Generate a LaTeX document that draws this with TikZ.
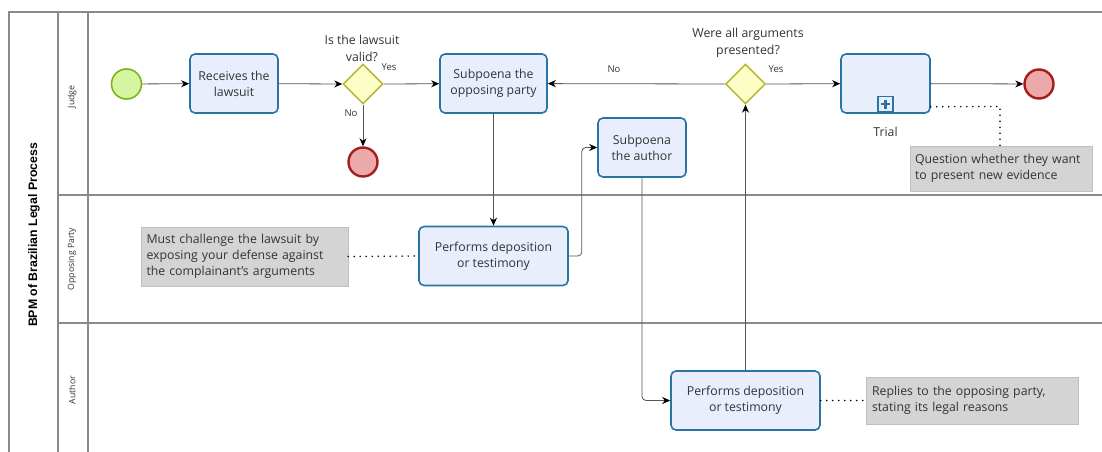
\documentclass[tikz,border=0pt]{standalone}
\usepackage{fontspec}
\setmainfont{Open Sans}
\newfontfamily\titlefont{Liberation Sans}
\usetikzlibrary{arrows.meta,shapes.geometric,positioning,calc}
\definecolor{taskfill}{HTML}{E9EEFC}
\definecolor{taskdraw}{HTML}{2A73A5}
\definecolor{gwfill}{HTML}{FDFDC6}
\definecolor{gwdraw}{HTML}{B3B32E}
\definecolor{stfill}{HTML}{D6F5A0}
\definecolor{stdraw}{HTML}{7AB51D}
\definecolor{endfill}{HTML}{ECA9A9}
\definecolor{enddraw}{HTML}{A61B1B}
\definecolor{lanecol}{HTML}{8A8A8A}
\definecolor{txt}{HTML}{333333}
\definecolor{annfill}{HTML}{D4D4D4}
\definecolor{flowcol}{HTML}{555555}
\begin{document}
\begin{tikzpicture}[x=1pt,y=-1pt,
  task/.style={draw=taskdraw,fill=taskfill,line width=1.6pt,rounded corners=5pt,
    align=center,text=txt,font=\fontsize{12.3}{16}\selectfont,inner sep=0pt},
  gw/.style={diamond,draw=gwdraw,fill=gwfill,line width=1.4pt,minimum width=40pt,minimum height=40pt,inner sep=0pt},
  startev/.style={circle,draw=stdraw,fill=stfill,line width=1.6pt,minimum size=30pt,inner sep=0pt},
  endev/.style={circle,draw=enddraw,fill=endfill,line width=2.4pt,minimum size=29pt,inner sep=0pt},
  ann/.style={fill=annfill,draw=annfill!90!black,line width=0.4pt,align=left,text=txt,
    font=\fontsize{12.3}{16}\selectfont,inner sep=0pt,text width=#1},
  flow/.style={draw=flowcol,line width=0.8pt,-{Stealth[length=8pt,width=7pt,inset=2.5pt,black]}},
  assoc/.style={draw=black,line width=1.7pt,dash pattern=on 0pt off 6pt,line cap=round},
  lbl/.style={text=txt,font=\fontsize{12.3}{17}\selectfont,align=center,inner sep=0pt},
  small/.style={text=txt,font=\fontsize{9.5}{11}\selectfont,inner sep=0pt},
  lanelbl/.style={rotate=90,font=\fontsize{8.7}{10}\selectfont,text=txt},
  lane/.style={draw=lanecol,line width=1.2pt}
]
\useasboundingbox (0,0) rectangle (1102,452);
% pool and lanes
\draw[lane] (1102,12) -- (9,12) -- (9,452);
\draw[lane] (58,12) -- (58,452);
\draw[lane] (88,12) -- (88,452);
\draw[lane] (58,195) -- (1102,195);
\draw[lane] (58,323) -- (1102,323);
\node[rotate=90,font=\titlefont\bfseries\fontsize{12.3}{14}\selectfont,text=black] (title) at (34,235) {BPM of Brazilian Legal Process};
\node[lanelbl] (ljudge) at (72,97) {Judge};
\node[lanelbl] (lopp) at (72,259) {Opposing Party};
\node[lanelbl] (lauth) at (72,390) {Author};
% judge lane
\node[startev] (start) at (126.5,84) {};
\node[task,minimum width=88pt,minimum height=59pt] (rec) at (234,83.5) {Receives the\\lawsuit};
\node[gw] (gw1) at (363,84) {};
\node[lbl] (gw1l) at (362,48) {Is the lawsuit\\valid?};
\node[endev] (end1) at (363,162) {};
\node[task,minimum width=107pt,minimum height=59pt] (sop) at (493.5,83.5) {Subpoena the\\opposing party};
\node[gw] (gw2) at (745.5,84) {};
\node[lbl] (gw2l) at (748,43) {Were all arguments\\presented?};
\node[task,minimum width=89pt,minimum height=59pt] (trial) at (885.5,83.5) {};
\node[draw=taskdraw,fill=taskfill,line width=1.2pt,minimum size=15pt,inner sep=0pt] (plus) at (885.5,104) {};
\draw[taskdraw,line width=2.4pt] ($(plus.center)+(-4.5,0)$) -- ($(plus.center)+(4.5,0)$);
\draw[taskdraw,line width=2.4pt] ($(plus.center)+(0,-4.5)$) -- ($(plus.center)+(0,4.5)$);
\node[lbl] (triall) at (885.5,132) {Trial};
\node[endev] (end2) at (1039,84) {};
\node[task,minimum width=88pt,minimum height=59pt] (sau) at (642,147.5) {Subpoena\\the author};
\node[ann=172pt,minimum width=182pt,minimum height=45pt] (ann1) at (1001,168.5) {Question whether they want\\to present new evidence};
% opposing party lane
\node[task,minimum width=149pt,minimum height=59pt] (po) at (493.5,256) {Performs deposition\\or testimony};
\node[ann=196pt,minimum width=207pt,minimum height=59pt] (ann2) at (244.5,256.5) {Must challenge the lawsuit by\\exposing your defense against\\the complainant's arguments};
% author lane
\node[task,minimum width=149pt,minimum height=59pt] (pa) at (745.5,400.5) {Performs deposition\\or testimony};
\node[ann=200pt,minimum width=212pt,minimum height=47pt] (ann3) at (972,400.5) {Replies to the opposing party,\\stating its legal reasons};
% flows
\draw[flow] (start) -- (rec);
\draw[flow] (rec) -- (gw1.west);
\draw[flow] (gw1.east) -- (sop);
\draw[flow] (gw1.south) -- (end1);
\draw[flow] (gw2.west) -- (sop);
\draw[flow] (gw2.east) -- (trial);
\draw[flow] (trial) -- (end2);
\draw[flow] (sop) -- (po);
\draw[flow,rounded corners=4pt] (po.east) -- ++(13,0) |- (sau.west);
\draw[flow,rounded corners=4pt] (sau.south) |- (pa.west);
\draw[flow] (pa.north) -- (gw2.south);
% flow labels
\node[small] (y1) at (389,67) {Yes};
\node[small] (n1) at (351,113) {No};
\node[small] (n2) at (614,69) {No};
\node[small] (y2) at (776,69) {Yes};
% associations
\draw[assoc] (trial.south east) ++(0,-7) -- (1000,106.5) -- (ann1.north -| 1000,0);
\draw[assoc] (ann2.east) -- (po.west);
\draw[assoc] (pa.east) -- (ann3.west);
\end{tikzpicture}
\end{document}
